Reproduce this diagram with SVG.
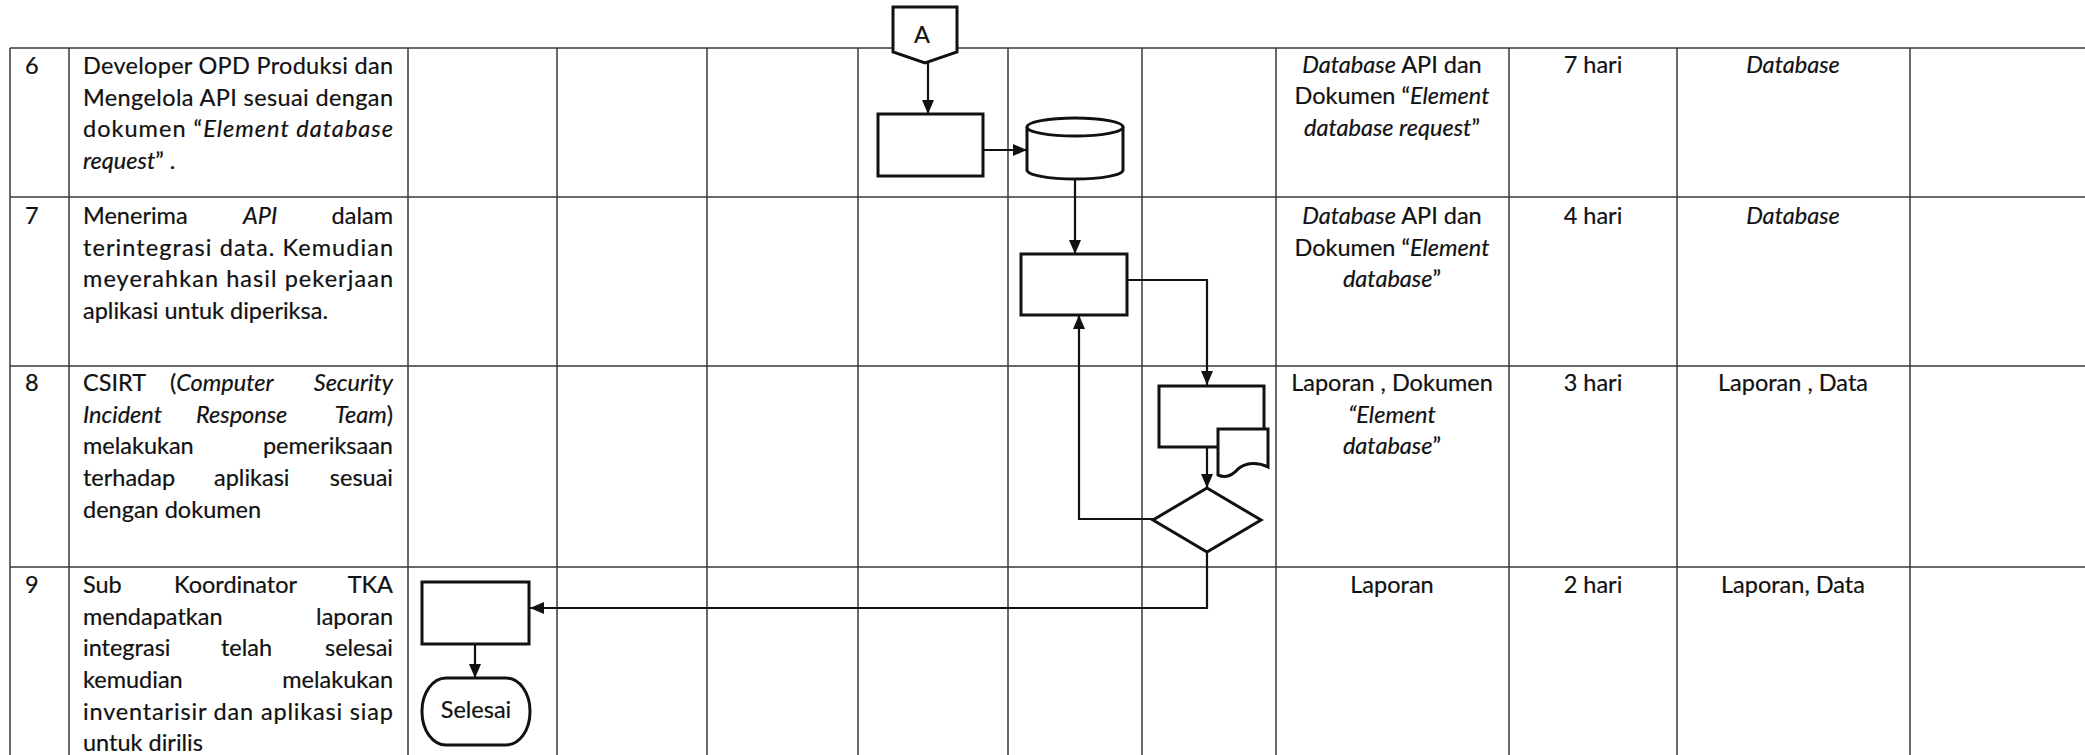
<svg xmlns="http://www.w3.org/2000/svg" width="2085" height="755" viewBox="0 0 2085 755">
<style>
.grid{stroke:#3a3a3a;stroke-width:1.5;fill:none}
.shape{fill:#fff;stroke:#111;stroke-width:3}
.conn{fill:none;stroke:#111;stroke-width:2.2}
text{font-family:Lato,"Liberation Sans",sans-serif;font-size:23.5px;fill:#111;stroke:#111;stroke-width:0.2}
.i{font-style:italic}
.m{text-anchor:middle}
.e{text-anchor:end}
</style>
<defs>
<marker id="ah" viewBox="0 0 14 12" refX="14" refY="6" markerWidth="14" markerHeight="12" markerUnits="userSpaceOnUse" orient="auto"><path d="M0,0 L14,6 L0,12 z" fill="#111"/></marker>
</defs>
<rect width="2085" height="755" fill="#fff"/>
<g id="table" class="grid">
<path d="M10,48 H2085 M10,197 H2085 M10,366 H2085 M10,567 H2085"/>
<path d="M10,48 V755 M69,48 V755 M408,48 V755 M557,48 V755 M707,48 V755 M858,48 V755 M1008,48 V755 M1142,48 V755 M1276,48 V755 M1509,48 V755 M1677,48 V755 M1910,48 V755"/>
</g>
<g id="numbers">
<text x="25" y="74">6</text>
<text x="25" y="224">7</text>
<text x="25" y="391">8</text>
<text x="25" y="593">9</text>
</g>
<g id="descriptions">
<text x="83" y="74" textLength="310" lengthAdjust="spacing">Developer OPD Produksi dan</text>
<text x="83" y="106" textLength="310" lengthAdjust="spacing">Mengelola API sesuai dengan</text>
<text x="83" y="137" textLength="310" lengthAdjust="spacing">dokumen “<tspan class="i">Element database</tspan></text>
<text x="83" y="169"><tspan class="i">request</tspan>” .</text>

<text x="83" y="224">Menerima</text>
<text x="243" y="224" class="i">API</text>
<text x="393" y="224" class="e">dalam</text>
<text x="83" y="256" textLength="310" lengthAdjust="spacing">terintegrasi data. Kemudian</text>
<text x="83" y="287" textLength="310" lengthAdjust="spacing">meyerahkan hasil pekerjaan</text>
<text x="83" y="319">aplikasi untuk diperiksa.</text>

<text x="83" y="391">CSIRT</text>
<text x="170" y="391">(<tspan class="i">Computer</tspan></text>
<text x="393" y="391" class="e i">Security</text>
<text x="83" y="423" class="i">Incident</text>
<text x="196" y="423" class="i">Response</text>
<text x="393" y="423" class="e"><tspan class="i">Team</tspan>)</text>
<text x="83" y="454">melakukan</text>
<text x="393" y="454" class="e">pemeriksaan</text>
<text x="83" y="486">terhadap</text>
<text x="214" y="486">aplikasi</text>
<text x="393" y="486" class="e">sesuai</text>
<text x="83" y="518">dengan dokumen</text>

<text x="83" y="593">Sub</text>
<text x="174" y="593">Koordinator</text>
<text x="393" y="593" class="e">TKA</text>
<text x="83" y="625">mendapatkan</text>
<text x="393" y="625" class="e">laporan</text>
<text x="83" y="656">integrasi</text>
<text x="221" y="656">telah</text>
<text x="393" y="656" class="e">selesai</text>
<text x="83" y="688">kemudian</text>
<text x="393" y="688" class="e">melakukan</text>
<text x="83" y="720" textLength="310" lengthAdjust="spacing">inventarisir dan aplikasi siap</text>
<text x="83" y="751">untuk dirilis</text>
</g>
<g id="outputs">
<text x="1392" y="73" class="m"><tspan class="i">Database</tspan> API dan</text>
<text x="1392" y="104" class="m">Dokumen “<tspan class="i">Element</tspan></text>
<text x="1392" y="136" class="m"><tspan class="i">database request</tspan>”</text>
<text x="1392" y="224" class="m"><tspan class="i">Database</tspan> API dan</text>
<text x="1392" y="256" class="m">Dokumen “<tspan class="i">Element</tspan></text>
<text x="1392" y="287" class="m"><tspan class="i">database</tspan>”</text>
<text x="1392" y="391" class="m">Laporan , Dokumen</text>
<text x="1392" y="423" class="m i">“Element</text>
<text x="1392" y="454" class="m"><tspan class="i">database</tspan>”</text>
<text x="1392" y="593" class="m">Laporan</text>
</g>
<g id="durations">
<text x="1593" y="73" class="m">7 hari</text>
<text x="1593" y="224" class="m">4 hari</text>
<text x="1593" y="391" class="m">3 hari</text>
<text x="1593" y="593" class="m">2 hari</text>
</g>
<g id="records">
<text x="1793" y="73" class="m i">Database</text>
<text x="1793" y="224" class="m i">Database</text>
<text x="1793" y="391" class="m">Laporan , Data</text>
<text x="1793" y="593" class="m">Laporan, Data</text>
</g>
<g id="connectors">
<path class="conn" d="M928,63 V114" marker-end="url(#ah)"/>
<path class="conn" d="M983,150 H1027" marker-end="url(#ah)"/>
<path class="conn" d="M1075,179 V254" marker-end="url(#ah)"/>
<path class="conn" d="M1127,280 H1207 V385" marker-end="url(#ah)"/>
<path class="conn" d="M1207,447 V488" marker-end="url(#ah)"/>
<path class="conn" d="M1153,519 H1079 V315" marker-end="url(#ah)"/>
<path class="conn" d="M1207,552 V608 H530" marker-end="url(#ah)"/>
<path class="conn" d="M475,644 V678" marker-end="url(#ah)"/>
</g>
<g id="node-A">
<path class="shape" d="M893,7 H957 V52 L925,63 L893,52 Z"/>
<text x="922" y="43" class="m">A</text>
</g>
<g id="node-process6">
<rect class="shape" x="878" y="114" width="105" height="62"/>
</g>
<g id="node-database">
<path class="shape" d="M1027,127 A48,9 0 0 1 1123,127 V170 A48,9 0 0 1 1027,170 Z"/>
<path class="shape" d="M1027,127 A48,9 0 0 0 1123,127" fill="none"/>
</g>
<g id="node-process7">
<rect class="shape" x="1021" y="254" width="106" height="61"/>
</g>
<g id="node-process8">
<rect class="shape" x="1159" y="386" width="105" height="61"/>
<path class="shape" d="M1218,429 H1268 V467 C1258,462 1246,462 1238,469 C1232,476 1225,478 1218,475 Z"/>
</g>
<g id="node-decision">
<path class="shape" d="M1207,488 L1261,520 L1207,552 L1153,520 Z"/>
</g>
<g id="node-process9">
<rect class="shape" x="422" y="582" width="107" height="62"/>
</g>
<g id="node-selesai">
<rect class="shape" x="422" y="678" width="108" height="67" rx="24" ry="33"/>
<text x="476" y="718" class="m">Selesai</text>
</g>
</svg>
